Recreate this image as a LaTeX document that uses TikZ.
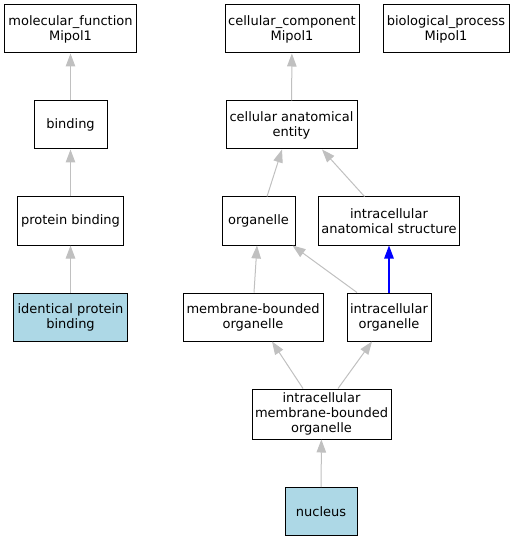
\documentclass[tikz,border=0pt]{standalone}
\usepackage{fontspec}
\setmainfont{DejaVu Sans}
\usetikzlibrary{arrows.meta}
\definecolor{edgegray}{HTML}{C0C0C0}
\definecolor{lightblue}{HTML}{ADD8E6}
\definecolor{linkblue}{HTML}{0000FF}
\begin{document}
\begin{tikzpicture}[x=1bp,y=-1bp,
  term/.style={draw=black, line width=1bp, fill=white, inner sep=0pt, align=center,
    font=\fontsize{13bp}{15bp}\selectfont},
  hit/.style={term, fill=lightblue},
  isa/.style={draw=edgegray, line width=1bp, -{Triangle[length=13bp,width=9.5bp]}},
  partof/.style={color=linkblue, line width=1.2bp, -{Triangle[length=13bp,width=9.5bp]}}]
\useasboundingbox (0,0) rectangle (515,541);
\node[term, minimum width=131bp, minimum height=48bp] (mf) at (70.5,29) {molecular\_function\\Mipol1};
\node[term, minimum width=73bp, minimum height=48bp] (bind) at (70.5,125) {binding};
\node[term, minimum width=105bp, minimum height=48bp] (pb) at (70.5,221) {protein binding};
\node[hit, minimum width=113bp, minimum height=48bp] (ipb) at (70.5,317) {identical protein\\binding};
\node[term, minimum width=134bp, minimum height=48bp] (cc) at (292,29) {cellular\_component\\Mipol1};
\node[term, minimum width=126bp, minimum height=48bp] (bp) at (446,29) {biological\_process\\Mipol1};
\node[term, minimum width=131bp, minimum height=48bp] (cae) at (291.5,125) {cellular anatomical\\entity};
\node[term, minimum width=73bp, minimum height=48bp] (org) at (258.5,221) {organelle};
\node[term, minimum width=141bp, minimum height=48bp] (ias) at (389,221) {intracellular\\anatomical structure};
\node[term, minimum width=140bp, minimum height=48bp] (mbo) at (253,317) {membrane-bounded\\organelle};
\node[term, minimum width=84bp, minimum height=48bp] (io) at (389,317) {intracellular\\organelle};
\node[term, minimum width=139bp, minimum height=50bp] (imbo) at (321.5,414) {intracellular\\membrane-bounded\\organelle};
\node[hit, minimum width=72bp, minimum height=48bp] (nuc) at (321,511.5) {nucleus};
\draw[isa] (bind) -- (mf);
\draw[isa] (pb) -- (bind);
\draw[isa] (ipb) -- (pb);
\draw[isa] (cae) -- (cc);
\draw[isa] ([xshift=8.5bp]org.north) -- ([xshift=-9.5bp]cae.south);
\draw[isa] ([xshift=-24.5bp]ias.north) -- ([xshift=30.5bp]cae.south);
\draw[isa] ([xshift=1bp]mbo.north) -- ([xshift=-1.5bp]org.south);
\draw[isa] ([xshift=-32bp]io.north) -- ([xshift=-3bp]org.south east);
\draw[partof] (io) -- (ias);
\draw[isa] ([xshift=-18.5bp]imbo.north) -- ([xshift=19bp]mbo.south);
\draw[isa] ([xshift=16.5bp]imbo.north) -- ([xshift=-17bp]io.south);
\draw[isa] (nuc) -- (imbo);
\end{tikzpicture}
\end{document}
